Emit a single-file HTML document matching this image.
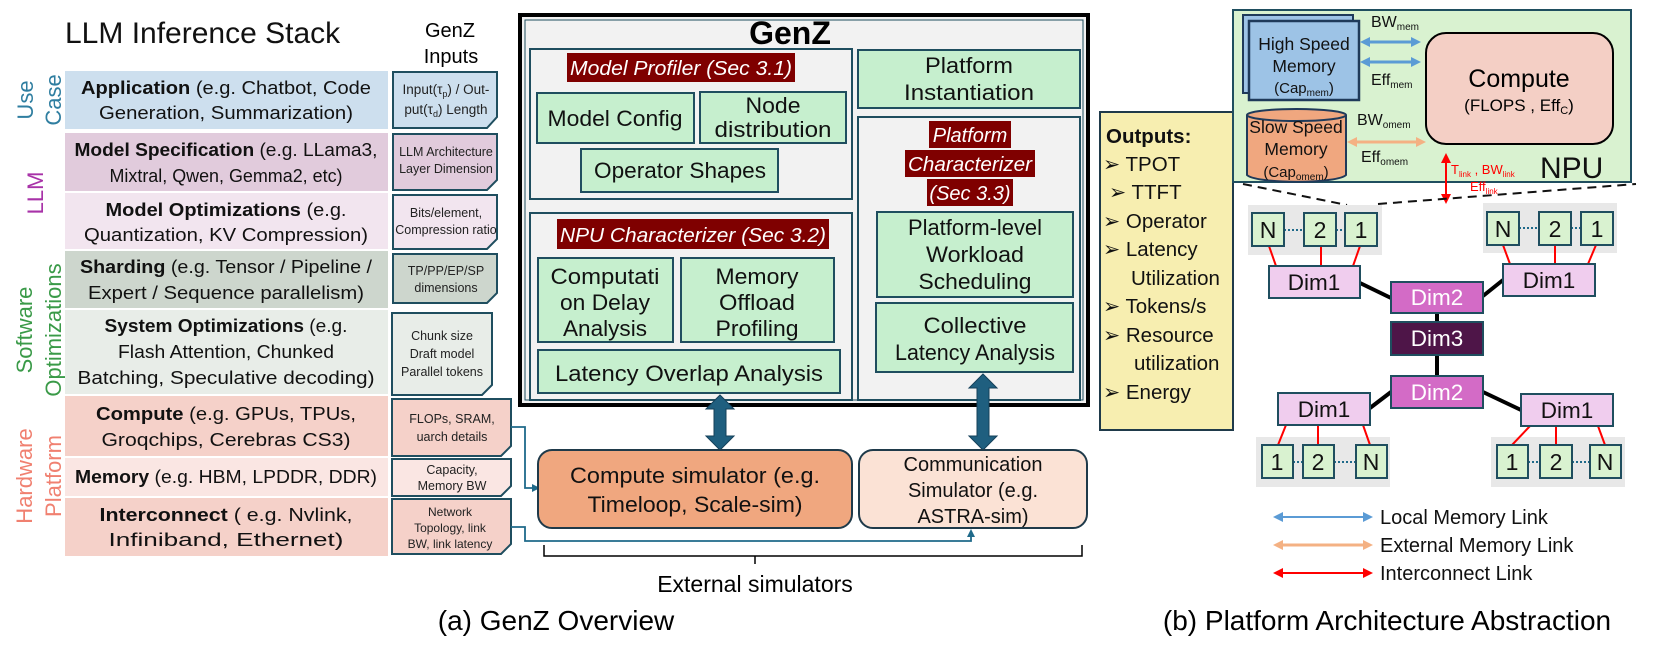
<!DOCTYPE html>
<html><head><meta charset="utf-8"><style>
html,body{margin:0;padding:0;background:#fff}
svg{display:block}
text{font-family:"Liberation Sans","DejaVu Sans",sans-serif}
</style></head><body>
<svg width="1661" height="663" viewBox="0 0 1661 663" xmlns="http://www.w3.org/2000/svg">
<defs>
<marker id="ab" markerWidth="8" markerHeight="8" refX="4" refY="4" orient="auto-start-reverse" markerUnits="userSpaceOnUse"><path d="M0,0 L8,4 L0,8 z" fill="#1f6a8a"/></marker>
<marker id="bl" markerWidth="10" markerHeight="10" refX="5" refY="5" orient="auto-start-reverse" markerUnits="userSpaceOnUse"><path d="M0,0 L10,5 L0,10 z" fill="#5b9bd5"/></marker>
<marker id="or" markerWidth="10" markerHeight="10" refX="5" refY="5" orient="auto-start-reverse" markerUnits="userSpaceOnUse"><path d="M0,0 L10,5 L0,10 z" fill="#f4b183"/></marker>
<marker id="rd" markerWidth="10" markerHeight="10" refX="5" refY="5" orient="auto-start-reverse" markerUnits="userSpaceOnUse"><path d="M0,0 L10,5 L0,10 z" fill="#ff0000"/></marker>
</defs>

<text x="65" y="43" font-size="30" fill="#111">LLM Inference Stack</text>
<text x="450" y="37" font-size="20" text-anchor="middle">GenZ</text>
<text x="451" y="63" font-size="20" text-anchor="middle">Inputs</text>

<g font-size="22">
<text transform="translate(33,100) rotate(-90)" text-anchor="middle" fill="#2f7ea0">Use</text>
<text transform="translate(61,100) rotate(-90)" text-anchor="middle" fill="#2f7ea0">Case</text>
<text transform="translate(43,193) rotate(-90)" text-anchor="middle" fill="#a832a8">LLM</text>
<text transform="translate(32,330) rotate(-90)" text-anchor="middle" fill="#3a9a48">Software</text>
<text transform="translate(61,330) rotate(-90)" text-anchor="middle" fill="#3a9a48">Optimizations</text>
<text transform="translate(32,476) rotate(-90)" text-anchor="middle" fill="#f08070">Hardware</text>
<text transform="translate(61,476) rotate(-90)" text-anchor="middle" fill="#f08070">Platform</text>
</g>

<rect x="65" y="71" width="323" height="58" fill="#cddfee"/>
<rect x="65" y="133" width="323" height="58" fill="#e1cbdc"/>
<rect x="65" y="193" width="323" height="56" fill="#f2e5ef"/>
<rect x="65" y="251" width="323" height="57" fill="#cdd6cd"/>
<rect x="65" y="310" width="323" height="84" fill="#e8ede8"/>
<rect x="65" y="396" width="323" height="60" fill="#f5d1c9"/>
<rect x="65" y="458" width="323" height="38" fill="#fae6e3"/>
<rect x="65" y="498" width="323" height="58" fill="#f5d1c9"/>
<g font-size="18" text-anchor="middle" fill="#111">
<text x="226" y="94" textLength="290" lengthAdjust="spacingAndGlyphs"><tspan font-weight="bold">Application</tspan> (e.g. Chatbot, Code</text>
<text x="226" y="119" textLength="254" lengthAdjust="spacingAndGlyphs">Generation, Summarization)</text>
<text x="226" y="156" textLength="303" lengthAdjust="spacingAndGlyphs"><tspan font-weight="bold">Model Specification</tspan> (e.g. LLama3,</text>
<text x="226" y="182" textLength="233" lengthAdjust="spacingAndGlyphs">Mixtral, Qwen, Gemma2, etc)</text>
<text x="226" y="216" textLength="241" lengthAdjust="spacingAndGlyphs"><tspan font-weight="bold">Model Optimizations</tspan> (e.g.</text>
<text x="226" y="241" textLength="284" lengthAdjust="spacingAndGlyphs">Quantization, KV Compression)</text>
<text x="226" y="273" textLength="292" lengthAdjust="spacingAndGlyphs"><tspan font-weight="bold">Sharding</tspan> (e.g. Tensor / Pipeline /</text>
<text x="226" y="299" textLength="276" lengthAdjust="spacingAndGlyphs">Expert / Sequence parallelism)</text>
<text x="226" y="332" textLength="243" lengthAdjust="spacingAndGlyphs"><tspan font-weight="bold">System Optimizations</tspan> (e.g.</text>
<text x="226" y="358" textLength="216" lengthAdjust="spacingAndGlyphs">Flash Attention, Chunked</text>
<text x="226" y="384" textLength="297" lengthAdjust="spacingAndGlyphs">Batching, Speculative decoding)</text>
<text x="226" y="420" textLength="260" lengthAdjust="spacingAndGlyphs"><tspan font-weight="bold">Compute</tspan> (e.g. GPUs, TPUs,</text>
<text x="226" y="446" textLength="249" lengthAdjust="spacingAndGlyphs">Groqchips, Cerebras CS3)</text>
<text x="226" y="483" textLength="302" lengthAdjust="spacingAndGlyphs"><tspan font-weight="bold">Memory</tspan> (e.g. HBM, LPDDR, DDR)</text>
<text x="226" y="521" textLength="253" lengthAdjust="spacingAndGlyphs"><tspan font-weight="bold">Interconnect</tspan> ( e.g. Nvlink,</text>
<text x="226" y="546" textLength="235" lengthAdjust="spacingAndGlyphs">Infiniband, Ethernet)</text>
</g>

<g stroke="#1f4e5f" stroke-width="2">
<path d="M393,72 H497 V117 L487,128 H393 Z" fill="#cddfee"/>
<path d="M393,134 H497 V180 L487,190 H393 Z" fill="#e1cbdc"/>
<path d="M393,195 H497 V239 L487,249 H393 Z" fill="#f2e5ef"/>
<path d="M393,254 H497 V293 L487,303 H393 Z" fill="#cdd6cd"/>
<path d="M392,313 H492 V385 L482,395 H392 Z" fill="#e8ede8"/>
<path d="M392,399 H511 V446 L501,456 H392 Z" fill="#f5d1c9"/>
<path d="M392,459 H511 V486 L501,496 H392 Z" fill="#fae6e3"/>
<path d="M392,499 H511 V544 L501,554 H392 Z" fill="#f5d1c9"/>
</g>
<g font-size="13.5" text-anchor="middle" fill="#222">
<text x="446" y="94">Input(τ<tspan font-size="9" dy="3">p</tspan><tspan dy="-3">) / Out-</tspan></text>
<text x="446" y="114">put(τ<tspan font-size="9" dy="3">d</tspan><tspan dy="-3">) Length</tspan></text>
<text x="446" y="156" font-size="12.5">LLM Architecture</text>
<text x="446" y="173" font-size="12.5">Layer Dimension</text>
<text x="446" y="217" font-size="12.5">Bits/element,</text>
<text x="446" y="234" font-size="12.5">Compression ratio</text>
<text x="446" y="275" font-size="12.5">TP/PP/EP/SP</text>
<text x="446" y="292" font-size="12.5">dimensions</text>
<text x="442" y="340" font-size="12.5">Chunk size</text>
<text x="442" y="358" font-size="12.5">Draft model</text>
<text x="442" y="376" font-size="12.5">Parallel tokens</text>
<text x="452" y="423" font-size="12.5">FLOPs, SRAM,</text>
<text x="452" y="441" font-size="12.5">uarch details</text>
<text x="452" y="474" font-size="12.5">Capacity,</text>
<text x="452" y="490" font-size="12.5">Memory BW</text>
<text x="450" y="516" font-size="12">Network</text>
<text x="450" y="532" font-size="12">Topology, link</text>
<text x="450" y="548" font-size="12">BW, link latency</text>
</g>

<g fill="none" stroke="#1f6a8a" stroke-width="1.8">
<path d="M511,427 H525 V488 H536" marker-end="url(#ab)"/>
<path d="M511,527 H525 V541 H971 V533" marker-end="url(#ab)"/>
</g>

<rect x="520" y="15" width="568" height="390" fill="#f2f2f2" stroke="#000" stroke-width="4"/>
<rect x="525" y="20" width="558" height="380" fill="none" stroke="#1f4e5f" stroke-width="1"/>
<text x="790" y="44" font-size="32" font-weight="bold" text-anchor="middle">GenZ</text>

<g stroke="#1f4e5f" stroke-width="2">
<rect x="530" y="49" width="322" height="150" fill="#f2f2f2"/>
<rect x="530" y="213" width="322" height="187" fill="#f2f2f2"/>
<rect x="858" y="50" width="222" height="58" fill="#c6efce"/>
<rect x="858" y="117" width="222" height="283" fill="#f2f2f2"/>
<rect x="537" y="93" width="157" height="50" fill="#c6efce"/>
<rect x="700" y="92" width="146" height="51" fill="#c6efce"/>
<rect x="581" y="149" width="197" height="43" fill="#c6efce"/>
<rect x="538" y="258" width="135" height="84" fill="#c6efce"/>
<rect x="681" y="258" width="153" height="84" fill="#c6efce"/>
<rect x="538" y="350" width="302" height="43" fill="#c6efce"/>
<rect x="877" y="212" width="196" height="85" fill="#c6efce"/>
<rect x="876" y="303" width="197" height="69" fill="#c6efce"/>
</g>
<rect x="567" y="53" width="228" height="29" fill="#7f0000"/>
<rect x="557" y="219" width="272" height="30" fill="#7f0000"/>
<rect x="929" y="121" width="82" height="27" fill="#7f0000"/>
<rect x="905" y="150" width="130" height="27" fill="#7f0000"/>
<rect x="927" y="179" width="86" height="27" fill="#7f0000"/>
<g font-size="20" fill="#fff" font-style="italic" text-anchor="middle">
<text x="681" y="75" textLength="222" lengthAdjust="spacingAndGlyphs">Model Profiler (Sec 3.1)</text>
<text x="693" y="242" textLength="266" lengthAdjust="spacingAndGlyphs">NPU Characterizer (Sec 3.2)</text>
<text x="970" y="142">Platform</text>
<text x="970" y="171" textLength="124" lengthAdjust="spacingAndGlyphs">Characterizer</text>
<text x="970" y="200">(Sec 3.3)</text>
</g>
<g font-size="22" text-anchor="middle" fill="#111">
<text x="615" y="126" textLength="135" lengthAdjust="spacingAndGlyphs">Model Config</text>
<text x="773" y="113" textLength="55" lengthAdjust="spacingAndGlyphs">Node</text>
<text x="773" y="137" textLength="117" lengthAdjust="spacingAndGlyphs">distribution</text>
<text x="680" y="178" textLength="172" lengthAdjust="spacingAndGlyphs">Operator Shapes</text>
<text x="605" y="284" textLength="109" lengthAdjust="spacingAndGlyphs">Computati</text>
<text x="605" y="310" textLength="90" lengthAdjust="spacingAndGlyphs">on Delay</text>
<text x="605" y="336" textLength="84" lengthAdjust="spacingAndGlyphs">Analysis</text>
<text x="757" y="284" textLength="83" lengthAdjust="spacingAndGlyphs">Memory</text>
<text x="757" y="310" textLength="76" lengthAdjust="spacingAndGlyphs">Offload</text>
<text x="757" y="336" textLength="83" lengthAdjust="spacingAndGlyphs">Profiling</text>
<text x="689" y="381" textLength="268" lengthAdjust="spacingAndGlyphs">Latency Overlap Analysis</text>
<text x="969" y="73" textLength="88" lengthAdjust="spacingAndGlyphs">Platform</text>
<text x="969" y="100" textLength="130" lengthAdjust="spacingAndGlyphs">Instantiation</text>
<text x="975" y="235" textLength="134" lengthAdjust="spacingAndGlyphs">Platform-level</text>
<text x="975" y="262" textLength="98" lengthAdjust="spacingAndGlyphs">Workload</text>
<text x="975" y="289" textLength="113" lengthAdjust="spacingAndGlyphs">Scheduling</text>
<text x="975" y="333" textLength="103" lengthAdjust="spacingAndGlyphs">Collective</text>
<text x="975" y="360" textLength="160" lengthAdjust="spacingAndGlyphs">Latency Analysis</text>
</g>

<g fill="#1f5f7f" stroke="#14405a" stroke-width="1">
<path d="M720,395 L734,409 H726 V436 H734 L720,450 L706,436 H714 V409 H706 Z"/>
<path d="M983,374 L997,388 H989 V436 H997 L983,450 L969,436 H977 V388 H969 Z"/>
</g>

<rect x="538" y="450" width="314" height="78" rx="14" fill="#f0a77f" stroke="#1f3a4a" stroke-width="2"/>
<rect x="859" y="450" width="228" height="78" rx="14" fill="#fbe2d5" stroke="#1f3a4a" stroke-width="2"/>
<g font-size="22" text-anchor="middle" fill="#111">
<text x="695" y="483" textLength="250" lengthAdjust="spacingAndGlyphs">Compute simulator (e.g.</text>
<text x="695" y="512" textLength="215" lengthAdjust="spacingAndGlyphs">Timeloop, Scale-sim)</text>
</g>
<g font-size="20" text-anchor="middle" fill="#111">
<text x="973" y="471">Communication</text>
<text x="973" y="497">Simulator (e.g.</text>
<text x="973" y="523">ASTRA-sim)</text>
</g>
<path d="M544,545 V556 H1082 V545 M755,556 V564" fill="none" stroke="#000" stroke-width="1.5"/>
<text x="755" y="592" font-size="23" text-anchor="middle">External simulators</text>
<text x="556" y="630" font-size="28" text-anchor="middle">(a) GenZ Overview</text>
<text x="1387" y="630" font-size="28" text-anchor="middle">(b) Platform Architecture Abstraction</text>

<rect x="1100" y="112" width="133" height="318" fill="#f7eeb0" stroke="#1f3a4a" stroke-width="2"/>
<g font-size="20.5" fill="#111">
<text x="1106" y="143" font-weight="bold">Outputs:</text>
<text x="1103" y="171">➢ TPOT</text>
<text x="1109" y="199">➢ TTFT</text>
<text x="1103" y="228">➢ Operator</text>
<text x="1103" y="256">➢ Latency</text>
<text x="1131" y="285">Utilization</text>
<text x="1103" y="313">➢ Tokens/s</text>
<text x="1103" y="342">➢ Resource</text>
<text x="1134" y="370">utilization</text>
<text x="1103" y="399">➢ Energy</text>
</g>

<rect x="1233" y="10" width="398" height="172" fill="#d9f2d0" stroke="#1f4e5f" stroke-width="2"/>
<rect x="1243" y="15" width="110" height="78" fill="#9dc3e6" stroke="#1f3a5a" stroke-width="2"/>
<rect x="1249" y="21" width="110" height="79" fill="#9dc3e6" stroke="#1f3a5a" stroke-width="2.5"/>
<g font-size="17.5" text-anchor="middle" fill="#111">
<text x="1304" y="50">High Speed</text>
<text x="1304" y="72">Memory</text>
<text x="1304" y="93" font-size="15">(Cap<tspan font-size="10" dy="3">mem</tspan><tspan dy="-3">)</tspan></text>
</g>
<path d="M1247,115 V175 A50,8 0 0 0 1346,175 V115" fill="#f0a77f" stroke="#1f3a5a" stroke-width="2"/>
<ellipse cx="1296.5" cy="115" rx="49.5" ry="6" fill="#f0a77f" stroke="#1f3a5a" stroke-width="2"/>
<g font-size="17.5" text-anchor="middle" fill="#111">
<text x="1296" y="133">Slow Speed</text>
<text x="1296" y="155">Memory</text>
<text x="1296" y="177" font-size="15">(Cap<tspan font-size="10" dy="3">omem</tspan><tspan dy="-3">)</tspan></text>
</g>
<rect x="1426" y="33" width="187" height="111" rx="20" fill="#f4cfc5" stroke="#000" stroke-width="2"/>
<text x="1519" y="87" font-size="25" text-anchor="middle">Compute</text>
<text x="1519" y="111" font-size="17" text-anchor="middle">(FLOPS , Eff<tspan font-size="11" dy="3">C</tspan><tspan dy="-3">)</tspan></text>
<g font-size="16" fill="#111">
<text x="1371" y="27">BW<tspan font-size="10" dy="3">mem</tspan></text>
<text x="1371" y="85">Eff<tspan font-size="10" dy="3">mem</tspan></text>
<text x="1357" y="125">BW<tspan font-size="10" dy="3">omem</tspan></text>
<text x="1361" y="162">Eff<tspan font-size="10" dy="3">omem</tspan></text>
</g>
<line x1="1365" y1="42" x2="1416" y2="42" stroke="#5b9bd5" stroke-width="3" marker-start="url(#bl)" marker-end="url(#bl)"/>
<line x1="1365" y1="62" x2="1416" y2="62" stroke="#5b9bd5" stroke-width="3" marker-start="url(#bl)" marker-end="url(#bl)"/>
<line x1="1352" y1="142" x2="1421" y2="142" stroke="#f4b183" stroke-width="3" marker-start="url(#or)" marker-end="url(#or)"/>
<text x="1540" y="178" font-size="30" fill="#111">NPU</text>
<line x1="1446" y1="158" x2="1446" y2="199" stroke="#ff0000" stroke-width="2" marker-start="url(#rd)" marker-end="url(#rd)"/>
<g font-size="13" fill="#ff0000">
<text x="1451" y="174">T<tspan font-size="8" dy="3">link</tspan><tspan dy="-3"> , BW</tspan><tspan font-size="8" dy="3">link</tspan></text>
<text x="1470" y="191">Eff<tspan font-size="8" dy="3">link</tspan></text>
</g>
<path d="M1243,184 L1347,205 M1378,204 L1636,184" stroke="#111" stroke-width="2" stroke-dasharray="9,6" fill="none"/>

<g fill="#e8e8e8">
<rect x="1248" y="205" width="134" height="50"/>
<rect x="1483" y="203" width="134" height="50"/>
<rect x="1256" y="437" width="134" height="50"/>
<rect x="1491" y="437" width="134" height="50"/>
</g>
<g stroke="#ff0000" stroke-width="2">
<line x1="1269" y1="246" x2="1276" y2="266"/><line x1="1321" y1="246" x2="1321" y2="266"/><line x1="1360" y1="246" x2="1353" y2="266"/>
<line x1="1503" y1="245" x2="1510" y2="264"/><line x1="1555" y1="245" x2="1555" y2="264"/><line x1="1596" y1="245" x2="1588" y2="264"/>
<line x1="1286" y1="425" x2="1278" y2="445"/><line x1="1318" y1="425" x2="1318" y2="445"/><line x1="1363" y1="425" x2="1370" y2="445"/>
<line x1="1530" y1="426" x2="1512" y2="445"/><line x1="1556" y1="426" x2="1556" y2="445"/><line x1="1598" y1="426" x2="1605" y2="445"/>
</g>
<g stroke="#000" stroke-width="4">
<line x1="1360" y1="283" x2="1391" y2="298"/><line x1="1483" y1="296" x2="1503" y2="280"/>
<line x1="1437" y1="313" x2="1437" y2="322"/><line x1="1437" y1="355" x2="1437" y2="376"/>
<line x1="1391" y1="392" x2="1370" y2="408"/><line x1="1483" y1="392" x2="1521" y2="410"/>
</g>
<g stroke="#1f6a8a" stroke-width="2" stroke-dasharray="2,2">
<line x1="1284" y1="230" x2="1304" y2="230"/><line x1="1336" y1="230" x2="1345" y2="230"/>
<line x1="1519" y1="228" x2="1539" y2="228"/><line x1="1571" y1="228" x2="1581" y2="228"/>
<line x1="1293" y1="462" x2="1303" y2="462"/><line x1="1334" y1="462" x2="1356" y2="462"/>
<line x1="1528" y1="462" x2="1540" y2="462"/><line x1="1572" y1="462" x2="1590" y2="462"/>
</g>
<g fill="#d9f2d0" stroke="#1f4e5f" stroke-width="2">
<rect x="1252" y="213" width="32" height="33"/><rect x="1304" y="213" width="32" height="33"/><rect x="1345" y="213" width="32" height="33"/>
<rect x="1487" y="212" width="32" height="33"/><rect x="1539" y="212" width="32" height="33"/><rect x="1581" y="212" width="32" height="33"/>
<rect x="1262" y="445" width="31" height="33"/><rect x="1303" y="445" width="31" height="33"/><rect x="1356" y="445" width="31" height="33"/>
<rect x="1497" y="445" width="31" height="33"/><rect x="1540" y="445" width="32" height="33"/><rect x="1590" y="445" width="31" height="33"/>
</g>
<g font-size="23" text-anchor="middle" fill="#111">
<text x="1268" y="238">N</text><text x="1320" y="238">2</text><text x="1361" y="238">1</text>
<text x="1503" y="237">N</text><text x="1555" y="237">2</text><text x="1597" y="237">1</text>
<text x="1277" y="470">1</text><text x="1318" y="470">2</text><text x="1371" y="470">N</text>
<text x="1512" y="470">1</text><text x="1556" y="470">2</text><text x="1605" y="470">N</text>
</g>
<g stroke="#1f4e5f" stroke-width="2">
<rect x="1269" y="266" width="91" height="32" fill="#f0cdee"/>
<rect x="1503" y="264" width="92" height="32" fill="#f0cdee"/>
<rect x="1278" y="393" width="92" height="32" fill="#f0cdee"/>
<rect x="1521" y="394" width="92" height="32" fill="#f0cdee"/>
<rect x="1391" y="282" width="92" height="31" fill="#d36bc6"/>
<rect x="1391" y="322" width="92" height="33" fill="#4e1548"/>
<rect x="1391" y="376" width="92" height="32" fill="#d36bc6"/>
</g>
<g font-size="22.5" text-anchor="middle">
<text x="1314" y="290" fill="#111">Dim1</text>
<text x="1549" y="288" fill="#111">Dim1</text>
<text x="1324" y="417" fill="#111">Dim1</text>
<text x="1567" y="418" fill="#111">Dim1</text>
<text x="1437" y="305" fill="#fff">Dim2</text>
<text x="1437" y="346" fill="#fff">Dim3</text>
<text x="1437" y="400" fill="#fff">Dim2</text>
</g>

<line x1="1278" y1="517" x2="1368" y2="517" stroke="#5b9bd5" stroke-width="2" marker-start="url(#bl)" marker-end="url(#bl)"/>
<line x1="1278" y1="545" x2="1368" y2="545" stroke="#f4b183" stroke-width="3" marker-start="url(#or)" marker-end="url(#or)"/>
<line x1="1278" y1="573" x2="1368" y2="573" stroke="#ff0000" stroke-width="2" marker-start="url(#rd)" marker-end="url(#rd)"/>
<g font-size="20" fill="#111">
<text x="1380" y="524">Local Memory Link</text>
<text x="1380" y="552">External Memory Link</text>
<text x="1380" y="580">Interconnect Link</text>
</g>
</svg>
</body></html>
